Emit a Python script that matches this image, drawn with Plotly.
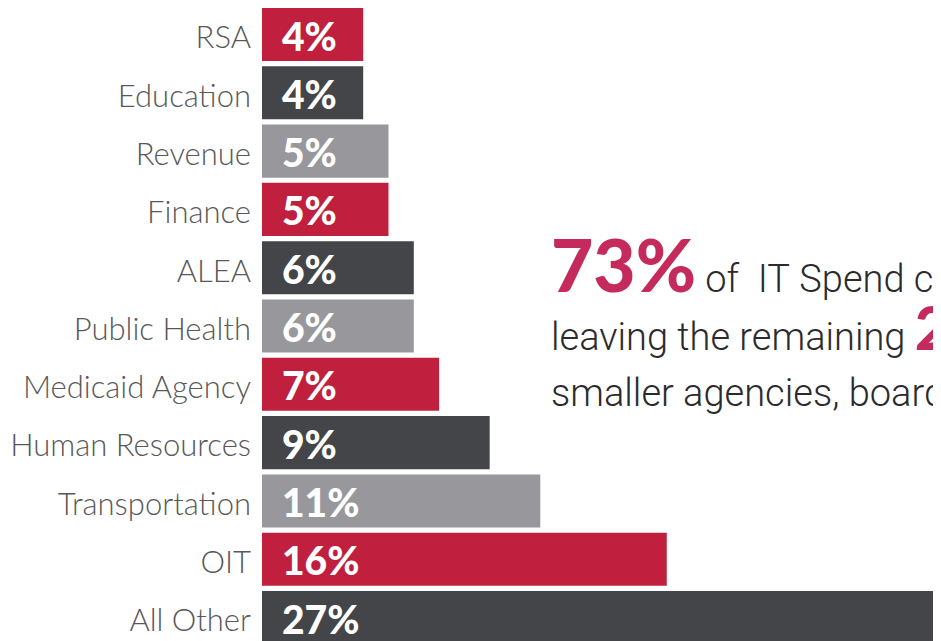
import plotly.graph_objects as go

categories = ["RSA", "Education", "Revenue", "Finance", "ALEA", "Public Health",
              "Medicaid Agency", "Human Resources", "Transportation", "OIT", "All Other"]
values = [4, 4, 5, 5, 6, 6, 7, 9, 11, 16, 27]
value_labels = ["4%", "4%", "5%", "5%", "6%", "6%", "7%", "9%", "11%", "16%", "27%"]
bar_colors = ["#C01F3D", "#444548", "#98989C", "#C01F3D", "#444548", "#98989C",
              "#C01F3D", "#444548", "#98989C", "#C01F3D", "#444548"]

headline_pct = "73%"
headline_words = ["of", "IT", "Spend", "comes", "from", "10", "agencies,"]
line2_text = "leaving the remaining"
line2_pct = "27%"
line2_rest = "to be shared by"
line3_text = "smaller agencies, boards and commissions."

LABEL_FONT = "Lato, Roboto"
VALUE_FONT = "Lato, DejaVu Sans"
BODY_FONT = "Roboto"

# page body has an 8px default margin; the figure is sized so it ends at the window edge
OFF = 8
W, H = 941 - OFF, 641 - OFF
PLOT_L = 262 - OFF


def px(page_x):
    return (page_x - 262) / 679


def py(page_y):
    return 1 - (page_y - OFF) / H


fig = go.Figure()
fig.add_trace(go.Bar(
    x=values, y=categories, orientation="h",
    marker=dict(color=bar_colors, line=dict(width=0)),
    hoverinfo="skip",
))

for cat, lab in zip(categories, value_labels):
    fig.add_annotation(
        x=0, y=cat, xref="x", yref="y", text=lab, showarrow=False,
        xanchor="left", yanchor="middle", xshift=18, yshift=-1,
        font=dict(family=VALUE_FONT, size=39, color="white", weight=900),
    )

PINK = "#C42B5C"
TXT = "#2B2B2D"
gaps = ["&nbsp;&nbsp;", "&nbsp;", "&nbsp;", "&nbsp;", "&nbsp;", "&nbsp;"]
line1_rest = headline_words[0]
for g, w in zip(gaps, headline_words[1:]):
    line1_rest += g + w
fig.add_annotation(
    xref="paper", yref="paper", x=px(549), y=py(264),
    xanchor="left", yanchor="middle", showarrow=False, align="left",
    text=(f"<span style='font-size:73px;font-weight:900;font-family:Lato;color:{PINK}'>{headline_pct}</span>"
          f"&nbsp;{line1_rest}"),
    font=dict(family=BODY_FONT, size=38, color=TXT, weight=300),
)
fig.add_annotation(
    xref="paper", yref="paper", x=px(549), y=py(327),
    xanchor="left", yanchor="middle", showarrow=False, align="left",
    text=(f"{line2_text} <span style='font-size:60px;font-weight:900;font-family:Lato;color:{PINK}'>{line2_pct}</span> {line2_rest}"),
    font=dict(family=BODY_FONT, size=38, color=TXT, weight=300),
)
fig.add_annotation(
    xref="paper", yref="paper", x=px(549), y=py(393),
    xanchor="left", yanchor="middle", showarrow=False, align="left",
    text=line3_text,
    font=dict(family=BODY_FONT, size=38, color=TXT, weight=300),
)

fig.update_layout(
    width=W, height=H,
    margin=dict(l=PLOT_L, r=0, t=0, b=0, pad=0, autoexpand=False),
    paper_bgcolor="white", plot_bgcolor="white",
    showlegend=False, bargap=0.09,
    xaxis=dict(range=[0, 26.84], visible=False, fixedrange=True, automargin=False),
    yaxis=dict(
        type="category", categoryorder="array", categoryarray=categories,
        range=[10.403, -0.4545], showgrid=False, zeroline=False, showline=False,
        ticks="", ticklabelstandoff=10, ticklabelshift=-3, automargin=False,
        tickfont=dict(family=LABEL_FONT, size=31, color="#58585A", weight=300),
        fixedrange=True,
    ),
)

fig.write_html("out.html")
